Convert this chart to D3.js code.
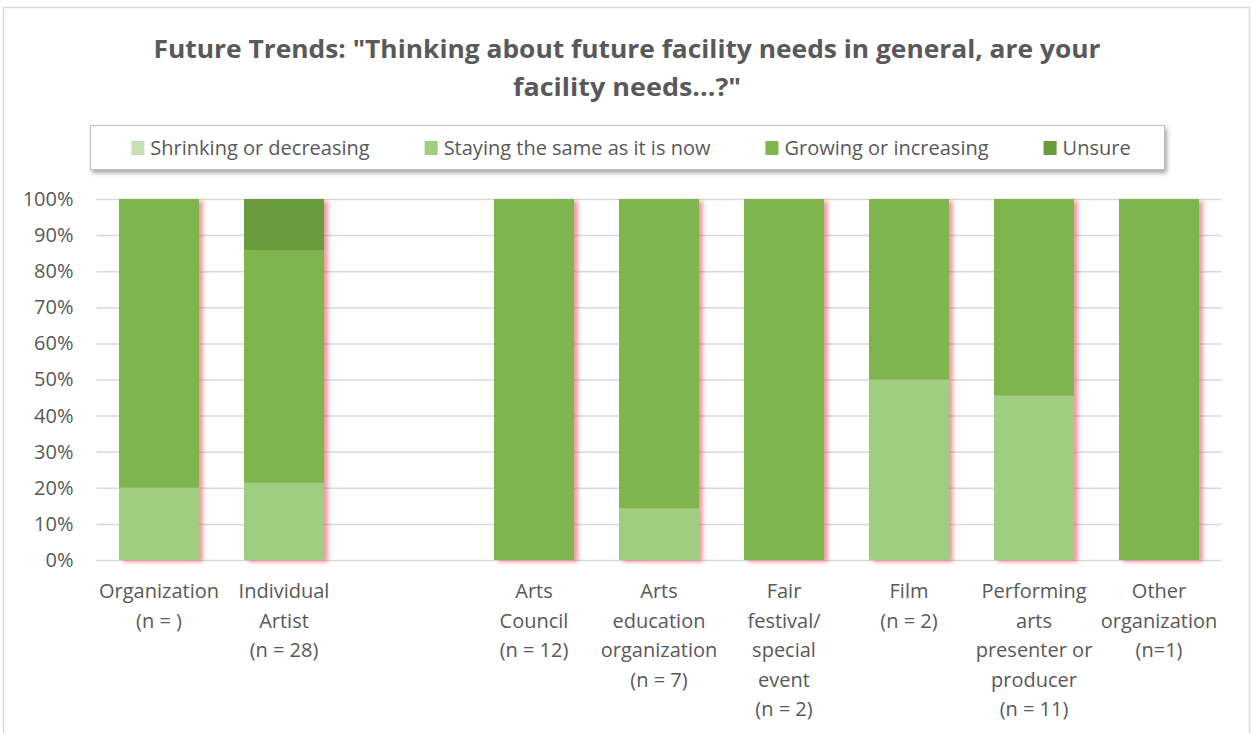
<!DOCTYPE html>
<html>
<head>
<meta charset="utf-8">
<script src="https://cdn.jsdelivr.net/npm/d3@7"></script>
<style>
  html, body { margin: 0; padding: 0; background: #fff; }
  svg { display: block; font-family: "Open Sans", sans-serif; }
</style>
</head>
<body>
<svg id="chart" width="1254" height="733"></svg>
<script>
// Respondent groups (blank slot separates individual respondents from organization types)
const categories = [
  "Organization\n(n = )",
  "Individual\nArtist\n(n = 28)",
  "",
  "Arts\nCouncil\n(n = 12)",
  "Arts\neducation\norganization\n(n = 7)",
  "Fair\nfestival/\nspecial\nevent\n(n = 2)",
  "Film\n(n = 2)",
  "Performing\narts\npresenter or\nproducer\n(n = 11)",
  "Other\norganization\n(n=1)"
];
const seriesNames = ["Shrinking or decreasing", "Staying the same as it is now", "Growing or increasing", "Unsure"];
const shrinking = [0, 0, null, 0, 0, 0, 0, 0, 0];
const staying   = [0.20, 0.214, null, 0, 0.143, 0, 0.50, 0.455, 0];
const growing   = [0.80, 0.643, null, 1.00, 0.857, 1.00, 0.50, 0.545, 1.00];
const unsure    = [0, 0.143, null, 0, 0, 0, 0, 0, 0];
const yTicks = [0, 0.1, 0.2, 0.3, 0.4, 0.5, 0.6, 0.7, 0.8, 0.9, 1.0];
const colors = ["#C5E0B4", "#9FCE80", "#7EB64D", "#679C3D"];

const svg = d3.select("#chart");
const plot = { left: 96.5, right: 1221.5, top: 199, bottom: 560 };

// Outer chart frame
svg.append("rect").attr("x", 3.5).attr("y", 7.5).attr("width", 1246).attr("height", 740)
  .attr("fill", "#fff").attr("stroke", "#d9d9d9").attr("stroke-width", 1.5);

const defs = svg.append("defs");
const barShadow = defs.append("filter").attr("id", "barShadow")
  .attr("x", "-20%").attr("y", "-5%").attr("width", "150%").attr("height", "115%");
barShadow.append("feDropShadow").attr("dx", 4).attr("dy", 2).attr("stdDeviation", 2.2)
  .attr("flood-color", "#e05868").attr("flood-opacity", 0.6);
const boxShadow = defs.append("filter").attr("id", "boxShadow")
  .attr("x", "-5%").attr("y", "-30%").attr("width", "110%").attr("height", "170%");
boxShadow.append("feDropShadow").attr("dx", 2).attr("dy", 3).attr("stdDeviation", 2)
  .attr("flood-color", "#000").attr("flood-opacity", 0.35);

// Title
const title = svg.append("text").attr("text-anchor", "middle")
  .attr("font-weight", "bold").attr("font-size", 25).attr("fill", "#595959");
title.append("tspan").attr("x", 627).attr("y", 58)
  .attr("textLength", 947).attr("lengthAdjust", "spacingAndGlyphs")
  .text('Future Trends: "Thinking about future facility needs in general, are your');
title.append("tspan").attr("x", 627).attr("y", 96)
  .attr("textLength", 228).attr("lengthAdjust", "spacingAndGlyphs")
  .text('facility needs...?"');

// Scales
const keys = categories.map((c, i) => i);
const x = d3.scaleBand().domain(keys).range([plot.left, plot.right]).paddingInner(0.36).paddingOuter(0.18);
const y = d3.scaleLinear().domain([0, 1]).range([plot.bottom, plot.top]);

// Gridlines and y labels
const yAxis = svg.append("g").attr("transform", `translate(${plot.left},0)`)
  .call(d3.axisLeft(y).tickValues(yTicks).tickFormat(d3.format(".0%"))
    .tickSize(-(plot.right - plot.left)).tickPadding(23));
yAxis.select(".domain").remove();
yAxis.selectAll("line").attr("stroke", "#d9d9d9").attr("stroke-width", 1.5);
yAxis.selectAll("text").attr("font-size", 20).attr("fill", "#595959")
  .attr("font-family", "Open Sans, sans-serif");

// Stacked bars
const rows = keys.map(i => ({
  key: i, s0: shrinking[i], s1: staying[i], s2: growing[i], s3: unsure[i]
})).filter(r => r.s2 !== null);
const stack = d3.stack().keys(["s0", "s1", "s2", "s3"]);
const layers = stack(rows);

const catGroups = svg.append("g").selectAll("g.cat").data(rows).join("g")
  .attr("class", "cat").attr("filter", "url(#barShadow)");
catGroups.each(function(r, ri) {
  const g = d3.select(this);
  layers.forEach((layer, li) => {
    const seg = layer[ri];
    if (seg[1] - seg[0] <= 0) return;
    g.append("rect")
      .attr("x", x(r.key)).attr("width", x.bandwidth())
      .attr("y", y(seg[1])).attr("height", y(seg[0]) - y(seg[1]))
      .attr("fill", colors[li]);
  });
});

// Category labels
const xAxis = svg.append("g").attr("transform", `translate(0,${plot.bottom})`)
  .call(d3.axisBottom(x).tickSize(0).tickFormat(""));
xAxis.select(".domain").remove();
xAxis.selectAll(".tick").each(function(k) {
  const lines = categories[k].split("\n").filter(s => s.length);
  const t = d3.select(this).append("text").attr("text-anchor", "middle")
    .attr("font-size", 20).attr("fill", "#595959").attr("font-family", "Open Sans, sans-serif");
  lines.forEach((ln, j) => t.append("tspan").attr("x", 0).attr("y", 38 + j * 29.5).text(ln));
});

// Legend
const lg = svg.append("g");
lg.append("rect").attr("x", 90.5).attr("y", 125.5).attr("width", 1074).attr("height", 44)
  .attr("fill", "#fff").attr("stroke", "#bfbfbf").attr("stroke-width", 1)
  .attr("filter", "url(#boxShadow)");
const items = lg.append("g");
let cx = 0;
const gap = 55;
seriesNames.forEach((name, i) => {
  const it = items.append("g").attr("transform", `translate(${cx},0)`);
  it.append("rect").attr("x", 0).attr("y", 141).attr("width", 13).attr("height", 14).attr("fill", colors[i]);
  const tx = it.append("text").attr("x", 19).attr("y", 155).attr("font-size", 20)
    .attr("fill", "#595959").text(name);
  cx += 19 + tx.node().getComputedTextLength() + gap;
});
const totalW = cx - gap;
items.attr("transform", `translate(${631 - totalW / 2},0)`);
</script>
</body>
</html>
